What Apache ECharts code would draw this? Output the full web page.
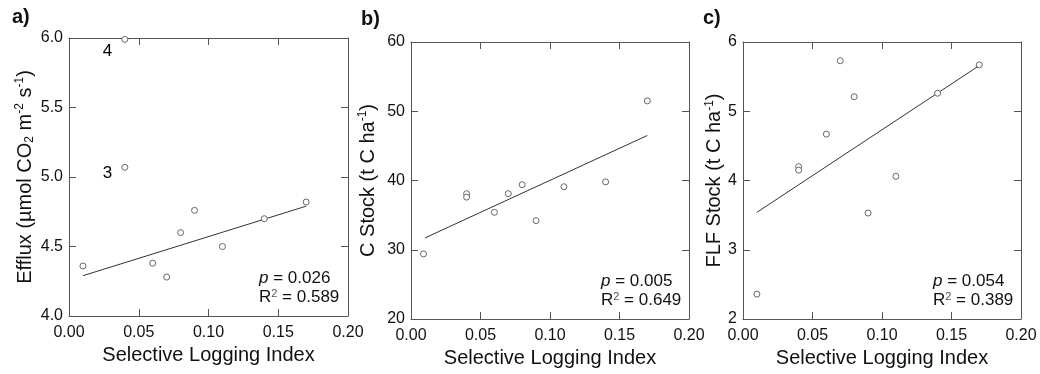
<!DOCTYPE html>
<html><head><meta charset="utf-8">
<script src="https://cdn.jsdelivr.net/npm/echarts@6/dist/echarts.min.js"></script>
<style>html,body{margin:0;padding:0;background:#fff}#c{width:1040px;height:374px}</style>
</head><body><div id="c"></div>
<script>
// ---- data ----
const sliA = [0.01, 0.04, 0.04, 0.06, 0.07, 0.08, 0.09, 0.11, 0.14, 0.17];
const effluxA = [4.36, 5.99, 5.07, 4.38, 4.28, 4.60, 4.76, 4.50, 4.70, 4.82];
const effluxPointLabels = ['', '4', '3', '', '', '', '', '', '', ''];
const fitA = [[0.01, 4.29], [0.17, 4.79]];

const sliB = [0.009, 0.04, 0.04, 0.06, 0.07, 0.08, 0.09, 0.11, 0.14, 0.17];
const cStockB = [29.4, 38.1, 37.6, 35.4, 38.1, 39.4, 34.2, 39.1, 39.8, 51.5];
const fitB = [[0.01, 31.7], [0.17, 46.5]];

const sliC = [0.01, 0.04, 0.04, 0.06, 0.07, 0.08, 0.09, 0.11, 0.14, 0.17];
const flfC = [2.36, 4.20, 4.15, 4.67, 5.73, 5.21, 3.53, 4.06, 5.26, 5.67];
const fitC = [[0.01, 3.54], [0.17, 5.66]];

const xTicks = [0, 0.2, 0.05];           // min, max, interval
const yTicksA = [4.0, 6.0, 0.5];
const yTicksB = [20, 60, 10];
const yTicksC = [2, 6, 1];

const statsA = ['0.026', '0.589'];
const statsB = ['0.005', '0.649'];
const statsC = ['0.054', '0.389'];

const panelLetters = ['a)', 'b)', 'c)'];
const xTitle = 'Selective Logging Index';

// ---- layout ----
const FONT = "'Liberation Sans', Arial, sans-serif";
const TXT = '#111';
const AX = '#555';
const grids = [
  {left: 69, top: 38, width: 279, height: 278},
  {left: 411, top: 42, width: 278, height: 277},
  {left: 743, top: 42, width: 278, height: 277}
];
const yNameGaps = [33, 32, 15];

const chart = echarts.init(document.getElementById('c'), null, {renderer: 'canvas'});

const supSub = {
  sup: {fontSize: 12, fontFamily: FONT, color: TXT, verticalAlign: 'top', lineHeight: 22, padding: [0, 0, 8, 0]},
  sub: {fontSize: 12, fontFamily: FONT, color: TXT, verticalAlign: 'bottom', lineHeight: 22, padding: [8, 0, 0, 0]},
  n: {fontSize: 20, fontFamily: FONT, color: TXT, lineHeight: 22}
};
const yNames = [
  '{n|Efflux (µmol CO}{sub|2}{n| m}{sup|-2}{n| s}{sup|-1}{n|)}',
  '{n|C Stock (t C ha}{sup|-1}{n|)}',
  '{n|FLF Stock (t C ha}{sup|-1}{n|)}'
];
const yTicks = [yTicksA, yTicksB, yTicksC];
const yDec = [1, 0, 0];

const xAxes = [], yAxes = [];
grids.forEach((g, i) => {
  xAxes.push({
    gridIndex: i, type: 'value', position: 'bottom', min: xTicks[0], max: xTicks[1], interval: xTicks[2],
    axisLine: {onZero: false, lineStyle: {color: AX, width: 1}},
    axisTick: {inside: true, length: 7, lineStyle: {color: AX}},
    splitLine: {show: false},
    axisLabel: {margin: 9, fontSize: 16, fontFamily: FONT, color: TXT, formatter: v => v.toFixed(2)},
    name: xTitle, nameLocation: 'middle', nameGap: 28,
    nameTextStyle: {fontSize: 20, fontFamily: FONT, color: TXT}
  });
  xAxes.push({
    gridIndex: i, type: 'value', position: 'top', min: xTicks[0], max: xTicks[1], interval: xTicks[2],
    axisLine: {onZero: false, lineStyle: {color: AX, width: 1}},
    axisTick: {inside: true, length: 7, lineStyle: {color: AX}},
    splitLine: {show: false}, axisLabel: {show: false}
  });
  const t = yTicks[i];
  yAxes.push({
    gridIndex: i, type: 'value', position: 'left', min: t[0], max: t[1], interval: t[2],
    axisLine: {show: true, onZero: false, lineStyle: {color: AX, width: 1}},
    axisTick: {show: true, inside: true, length: 7, lineStyle: {color: AX}},
    splitLine: {show: false},
    axisLabel: {margin: 6, fontSize: 16, fontFamily: FONT, color: TXT, formatter: v => v.toFixed(yDec[i])},
    name: yNames[i], nameLocation: 'middle', nameGap: yNameGaps[i], nameRotate: 90,
    nameTextStyle: {rich: supSub}
  });
  yAxes.push({
    gridIndex: i, type: 'value', position: 'right', min: t[0], max: t[1], interval: t[2],
    axisLine: {show: true, onZero: false, lineStyle: {color: AX, width: 1}},
    axisTick: {show: true, inside: true, length: 7, lineStyle: {color: AX}},
    splitLine: {show: false}, axisLabel: {show: false}
  });
});

function pts(xs, ys, labels) {
  return xs.map((x, k) => {
    const item = {value: [x, ys[k]]};
    if (labels && labels[k]) {
      item.label = {show: true, formatter: labels[k], position: 'left', distance: 9,
        offset: [0, k === 1 ? 12 : 6], fontSize: 17, fontFamily: FONT, color: '#000', opacity: 1};
    }
    return item;
  });
}
const sets = [[sliA, effluxA, fitA, effluxPointLabels], [sliB, cStockB, fitB, null], [sliC, flfC, fitC, null]];
const series = [];
sets.forEach((s, i) => {
  series.push({
    type: 'line', xAxisIndex: 2 * i, yAxisIndex: 2 * i, data: s[2], symbol: 'none',
    lineStyle: {color: '#333', width: 1}, silent: true, z: 2
  });
  series.push({
    type: 'scatter', xAxisIndex: 2 * i, yAxisIndex: 2 * i, data: pts(s[0], s[1], s[3]),
    symbol: 'circle', symbolSize: 6, clip: false,
    itemStyle: {color: '#fff', borderColor: '#666', borderWidth: 1, opacity: 1}, z: 3
  });
});

const statsAll = [statsA, statsB, statsC];
const titles = [];
grids.forEach((g, i) => {
  titles.push({
    text: `{i|p} = ${statsAll[i][0]}\nR{s|2} = ${statsAll[i][1]}`,
    left: g.left + 190, top: g.top + g.height - 47, padding: 0,
    textStyle: {fontSize: 17, fontWeight: 'normal', fontFamily: FONT, color: TXT, lineHeight: 19,
      rich: {
        i: {fontStyle: 'italic', fontSize: 17, fontFamily: FONT, color: TXT, lineHeight: 19},
        s: {fontSize: 11, fontFamily: FONT, color: '#555', verticalAlign: 'top', lineHeight: 19, padding: [0, 0, 6, 0]}
      }}
  });
});
const letterPos = [[12, 7], [361, 9], [703, 8]];
panelLetters.forEach((t, i) => {
  titles.push({text: t, left: letterPos[i][0], top: letterPos[i][1], padding: 0,
    textStyle: {fontSize: 20, fontWeight: 'bold', fontFamily: FONT, color: TXT}});
});

chart.setOption({
  animation: false,
  backgroundColor: '#fff',
  title: titles,
  grid: grids,
  xAxis: xAxes,
  yAxis: yAxes,
  series: series
});
</script>
</body></html>
